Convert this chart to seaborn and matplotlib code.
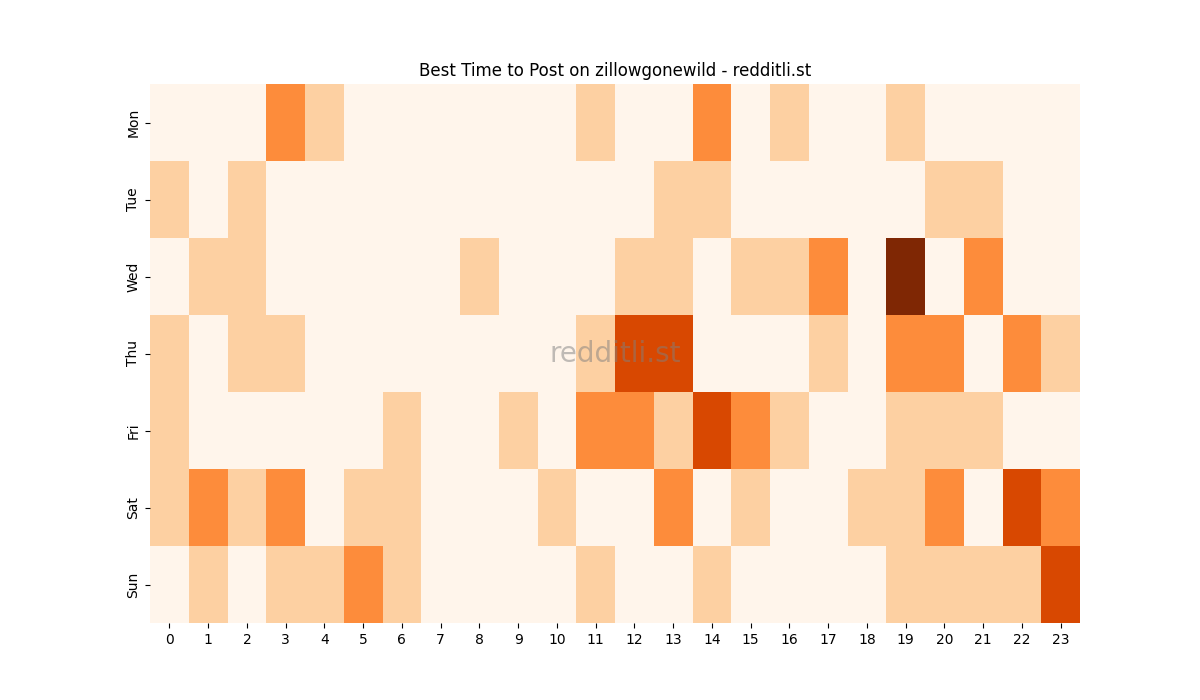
import numpy as np
import pandas as pd
import seaborn as sns
from matplotlib import pyplot as plt

days = ['Mon', 'Tue', 'Wed', 'Thu', 'Fri', 'Sat', 'Sun']
hours = list(range(24))

# post score level per day/hour
mon = [0, 0, 0, 2, 1, 0, 0, 0, 0, 0, 0, 1, 0, 0, 2, 0, 1, 0, 0, 1, 0, 0, 0, 0]
tue = [1, 0, 1, 0, 0, 0, 0, 0, 0, 0, 0, 0, 0, 1, 1, 0, 0, 0, 0, 0, 1, 1, 0, 0]
wed = [0, 1, 1, 0, 0, 0, 0, 0, 1, 0, 0, 0, 1, 1, 0, 1, 1, 2, 0, 4, 0, 2, 0, 0]
thu = [1, 0, 1, 1, 0, 0, 0, 0, 0, 0, 0, 1, 3, 3, 0, 0, 0, 1, 0, 2, 2, 0, 2, 1]
fri = [1, 0, 0, 0, 0, 0, 1, 0, 0, 1, 0, 2, 2, 1, 3, 2, 1, 0, 0, 1, 1, 1, 0, 0]
sat = [1, 2, 1, 2, 0, 1, 1, 0, 0, 0, 1, 0, 0, 2, 0, 1, 0, 0, 1, 1, 2, 0, 3, 2]
sun = [0, 1, 0, 1, 1, 2, 1, 0, 0, 0, 0, 1, 0, 0, 1, 0, 0, 0, 0, 1, 1, 1, 1, 3]

df = pd.DataFrame([mon, tue, wed, thu, fri, sat, sun], index=days, columns=hours)

fig, ax = plt.subplots(figsize=(12, 7), dpi=100)
sns.heatmap(df, cmap='Oranges', vmin=0, vmax=4, cbar=False, ax=ax)
ax.set_title('Best Time to Post on zillowgonewild - redditli.st')
ax.set_xlabel('')
ax.set_ylabel('')
ax.tick_params(axis='x', rotation=0)
ax.text(0.5, 0.5, 'redditli.st', transform=ax.transAxes, fontsize=20,
        color='grey', alpha=0.5, ha='center', va='center')

plt.savefig('out.png', dpi=100)
